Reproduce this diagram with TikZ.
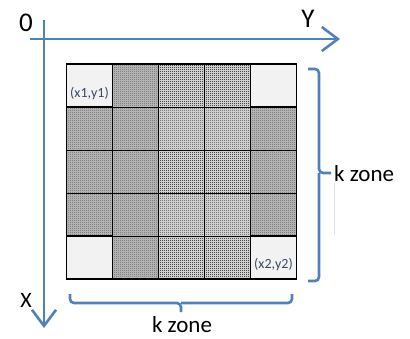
\documentclass[tikz,border=0pt]{standalone}
\usepackage{fontspec}
\setmainfont{Carlito}
\usetikzlibrary{arrows.meta,patterns.meta}

\definecolor{axisblue}{HTML}{4F81BD}
\definecolor{cornerfill}{HTML}{F2F2F2}
\definecolor{coordtext}{HTML}{3A4865}
\definecolor{faintline}{HTML}{DCE3EC}
\definecolor{densebase}{HTML}{C4C4C4}
\definecolor{sparsebase}{HTML}{CFCFCF}

% checkerboard texture (darker cells)
\tikzdeclarepattern{
  name=densedots, type=uncolored,
  bottom left={(0pt,0pt)}, top right={(2pt,2pt)}, tile size={(2pt,2pt)},
  code={\fill (0pt,0pt) rectangle (1pt,1pt); \fill (1pt,1pt) rectangle (2pt,2pt);}
}
% sparse dot texture (lighter cells)
\tikzdeclarepattern{
  name=sparsedots, type=uncolored,
  bottom left={(0pt,0pt)}, top right={(2pt,2pt)}, tile size={(2pt,2pt)},
  code={\fill (0pt,0pt) rectangle (1.1pt,1.1pt);}
}

\tikzset{
  axis/.style={draw=axisblue, line width=2.6pt,
    -{Straight Barb[length=16pt,width=24pt,line width=2.6pt]}},
  bracepath/.style={draw=axisblue, line width=2.6pt, rounded corners=4pt},
  cellline/.style={draw=black, line width=0.9pt},
  boldline/.style={draw=black, line width=1.7pt},
  densecell/.style={fill=densebase, postaction={pattern=densedots, pattern color=black!75}},
  sparsecell/.style={fill=sparsebase, postaction={pattern=sparsedots, pattern color=black}},
  cornercell/.style={fill=cornerfill},
  axislabel/.style={font=\fontsize{27}{27}\selectfont, inner sep=0pt},
  zonelabel/.style={font=\fontsize{23}{23}\selectfont, inner sep=0pt},
  coordlabel/.style={font=\fontsize{14}{14}\selectfont, text=coordtext, inner sep=0pt},
}

\begin{document}
\begin{tikzpicture}[x=1pt, y=-1pt]
  \useasboundingbox (0,0) rectangle (410,338);

  % grid geometry: 5 columns x 5 rows
  \def\gx{66.5}\def\gy{64}\def\cw{46}\def\ch{43}

  % cell fills
  \foreach \c in {0,...,4}{
    \foreach \r in {0,...,4}{
      \pgfmathtruncatemacro{\isedge}{(\c==0 || \c==4) && (\r==0 || \r==4)}
      \pgfmathtruncatemacro{\islight}{(\c==2 || \c==3)}
      \ifnum\isedge=1
        \def\cellstyle{cornercell}
      \else\ifnum\islight=1
        \def\cellstyle{sparsecell}
      \else
        \def\cellstyle{densecell}
      \fi\fi
      \path[\cellstyle] (\gx+\c*\cw, \gy+\r*\ch) rectangle ++(\cw,\ch);
    }
  }

  % inner grid lines
  \foreach \c in {1,...,4}
    \draw[cellline] (\gx+\c*\cw, \gy) -- (\gx+\c*\cw, \gy+5*\ch);
  \foreach \r in {1,...,4}
    \draw[cellline] (\gx, \gy+\r*\ch) -- (\gx+5*\cw, \gy+\r*\ch);

  % corner cell borders and outer frame
  \draw[boldline] (\gx, \gy) rectangle ++(\cw,\ch);
  \draw[boldline] (\gx+4*\cw, \gy) rectangle ++(\cw,\ch);
  \draw[boldline] (\gx, \gy+4*\ch) rectangle ++(\cw,\ch);
  \draw[boldline] (\gx+4*\cw, \gy+4*\ch) rectangle ++(\cw,\ch);
  \draw[boldline] (\gx, \gy) rectangle ++(5*\cw,5*\ch);

  % corner coordinates
  \node[coordlabel] (p1) at (89.5, 94) {(x1,y1)};
  \node[coordlabel] (p2) at (273.5, 265) {(x2,y2)};

  % axes
  \coordinate (yStart) at (30,39);
  \coordinate (yEnd) at (340,39);
  \coordinate (xStart) at (44,20);
  \coordinate (xEnd) at (44,328);
  \draw[axis] (yStart) -- (yEnd);
  \draw[axis] (xStart) -- (xEnd);
  \node[axislabel] (origin) at (26,23) {0};
  \node[axislabel] (ylab) at (308,19) {Y};
  \node[font=\fontsize{22}{22}\selectfont, inner sep=0pt] (xlab) at (26,300) {X};

  % right brace
  \draw[bracepath] (308,69) -- (319,69) -- (319,173) -- (331,173);
  \draw[bracepath] (308,281) -- (319,281) -- (319,173);
  \node[zonelabel, anchor=west] (kright) at (334,174) {k zone};
  \draw[faintline, line width=0.8pt] (334,183) -- (334,235);

  % bottom brace
  \draw[bracepath] (70,294) -- (70,303) -- (181,303) -- (181,312);
  \draw[bracepath] (292,294) -- (292,303) -- (181,303);
  \node[zonelabel] (kbottom) at (182,324.5) {k zone};
\end{tikzpicture}
\end{document}
